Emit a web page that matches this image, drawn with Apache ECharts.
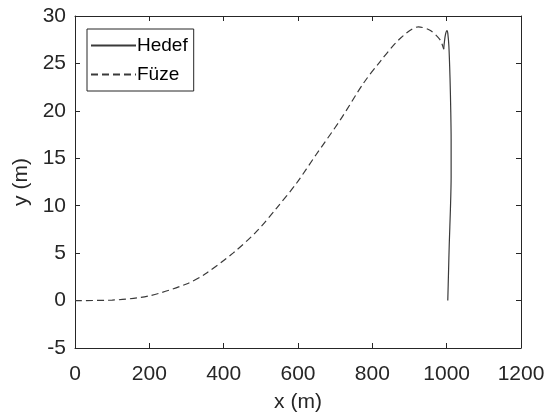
<!DOCTYPE html>
<html>
<head>
<meta charset="utf-8">
<script src="https://cdn.jsdelivr.net/npm/echarts@6/dist/echarts.min.js"></script>
<style>html,body{margin:0;padding:0;background:#fff;}#c{width:555px;height:414px;}</style>
</head>
<body>
<div id="c"></div>
<script>
// Hedef (target) trajectory
var hedefX = [1003, 1005, 1007, 1010, 1012, 1012, 1011, 1009, 1006, 1003, 1001, 997, 994, 992];
var hedefY = [0, 3, 6, 9.5, 13, 17, 20, 23.5, 26.8, 28.2, 28.45, 28.1, 27.3, 26.5];
// Füze (missile) trajectory
var fuzeX = [0, 100, 200, 300, 350, 425, 488, 542, 596, 649, 713, 776, 821, 874, 924, 955, 982, 992];
var fuzeY = [0, 0.05, 0.5, 1.75, 2.8, 5.0, 7.26, 9.73, 12.37, 15.4, 19.0, 22.9, 25.2, 27.6, 28.85, 28.5, 27.5, 26.5];
var xTicks = [0, 200, 400, 600, 800, 1000, 1200];
var yTicks = [-5, 0, 5, 10, 15, 20, 25, 30];
var seriesNames = ['Hedef', 'Füze'];
var axisNames = ['x (m)', 'y (m)'];

function pairs(xs, ys) { return xs.map(function (x, i) { return [x, ys[i]]; }); }

var FONT = 'Liberation Sans, Arial, sans-serif';
var AX = '#262626';
var FS = 21;
var chart = echarts.init(document.getElementById('c'), null, {renderer: 'canvas'});
var axisCommon = {
  axisLine: {show: true, onZero: false, lineStyle: {color: AX, width: 1}},
  axisTick: {show: true, inside: true, length: 5, lineStyle: {color: AX}},
  splitLine: {show: false}
};
chart.setOption({
  backgroundColor: '#fff',
  animation: false,
  grid: {left: 75, right: 34, top: 16, bottom: 66, containLabel: false, outerBoundsMode: 'none'},
  legend: {
    orient: 'vertical', left: 87, top: 29,
    padding: [7, 6, 7, 3], itemGap: 10, itemWidth: 45, itemHeight: 18,
    borderColor: AX, borderWidth: 1, backgroundColor: '#fff',
    itemStyle: {opacity: 0},
    textStyle: {fontFamily: FONT, fontSize: 19, color: '#000', padding: [0, 0, 0, -4], lineHeight: 18},
    data: seriesNames
  },
  xAxis: [
    Object.assign({type: 'value', min: xTicks[0], max: xTicks[xTicks.length - 1], interval: 200,
      name: axisNames[0], nameLocation: 'middle', nameGap: 44,
      nameTextStyle: {fontFamily: FONT, fontSize: FS, color: AX},
      axisLabel: {fontFamily: FONT, fontSize: FS, color: AX, margin: 16,
        formatter: function (v) { return String(v); }}}, axisCommon),
    Object.assign({type: 'value', position: 'top', min: 0, max: 1200, interval: 200,
      axisLabel: {show: false}}, axisCommon)
  ],
  yAxis: [
    Object.assign({type: 'value', min: yTicks[0], max: yTicks[yTicks.length - 1], interval: 5,
      name: axisNames[1], nameLocation: 'middle', nameGap: 40, nameRotate: 90,
      nameTextStyle: {fontFamily: FONT, fontSize: FS, color: AX},
      axisLabel: {fontFamily: FONT, fontSize: FS, color: AX, margin: 9,
        formatter: function (v) { return String(v); }}}, axisCommon),
    Object.assign({type: 'value', position: 'right', min: -5, max: 30, interval: 5,
      axisLabel: {show: false}}, axisCommon)
  ],
  series: [
    {name: seriesNames[0], type: 'line', data: pairs(hedefX, hedefY), showSymbol: false, symbol: 'none',
      smooth: 0.3, lineStyle: {color: '#3a3a3a', width: 1.2, type: 'solid'}, itemStyle: {color: '#3a3a3a'}},
    {name: seriesNames[1], type: 'line', data: pairs(fuzeX, fuzeY), showSymbol: false, symbol: 'none',
      smooth: 0.3, lineStyle: {color: '#3a3a3a', width: 1.2, type: [7, 4]}, itemStyle: {color: '#3a3a3a'}}
  ]
});
</script>
</body>
</html>
